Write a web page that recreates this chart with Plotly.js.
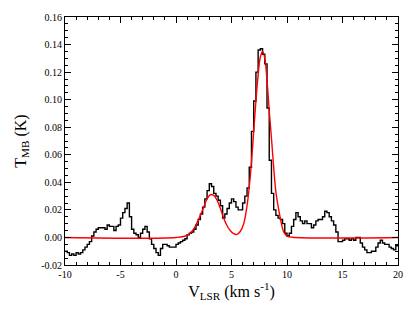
<!DOCTYPE html>
<html>
<head>
<meta charset="utf-8">
<script src="https://cdn.plot.ly/plotly-3.0.1.min.js"></script>
<style>html,body{margin:0;padding:0;background:#fff;}</style>
</head>
<body>
<div id="chart" style="width:415px;height:319px;"></div>
<script>
// Observed spectrum: channel start velocity V0 + i*DV, brightness temperature (K)
const V0 = -10, DV = 0.2;
const tmb = [
  -0.010, -0.011, -0.013, -0.012, -0.013, -0.011, -0.012, -0.011, -0.009, -0.007,   // -10 .. -8.2
  -0.005, -0.003,  0.001,  0.004,  0.006,  0.007,  0.007,  0.007,  0.006,  0.009,   // -8 .. -6.2
   0.008,  0.008,  0.005,  0.008,  0.009,  0.014,  0.018,  0.021,  0.025,  0.015,   // -6 .. -4.2
   0.006,  0.003,  0.002,  0.000,  0.003,  0.006,  0.008,  0.004, -0.001, -0.005,   // -4 .. -2.2
  -0.008, -0.011, -0.013, -0.008, -0.005, -0.005, -0.006, -0.007, -0.007, -0.007,   // -2 .. -0.2
  -0.005, -0.004, -0.003, -0.002, -0.001,  0.002,  0.003,  0.004,  0.006,  0.009,   // 0 .. 1.8
   0.013,  0.017,  0.022,  0.028,  0.034,  0.039,  0.037,  0.032,  0.030,  0.027,   // 2 .. 3.8
   0.023,  0.014,  0.017,  0.021,  0.025,  0.028,  0.026,  0.022,  0.020,  0.020,   // 4 .. 5.8
   0.025,  0.030,  0.036,  0.051,  0.077,  0.099,  0.120,  0.136,  0.137,  0.133,   // 6 .. 7.8
   0.126,  0.094,  0.056,  0.032,  0.020,  0.016,  0.014,  0.013,  0.010,  0.003,   // 8 .. 9.8
   0.001,  0.003,  0.008,  0.013,  0.018,  0.015,  0.012,  0.010,  0.012,  0.010,   // 10 .. 11.8
   0.010,  0.007,  0.009,  0.012,  0.013,  0.013,  0.015,  0.019,  0.018,  0.015,   // 12 .. 13.8
   0.012,  0.009,  0.004, -0.003, -0.003, -0.002, -0.001, -0.001, -0.002, -0.001,   // 14 .. 15.8
  -0.002,  0.000,  0.000, -0.004, -0.007, -0.009, -0.011, -0.011, -0.010, -0.010,   // 16 .. 17.8
  -0.007, -0.004, -0.002, -0.004, -0.005, -0.005, -0.007, -0.008, -0.009, -0.006    // 18 .. 19.8
];

// Gaussian fit curve
const fitV = [-10, 0.0, 1.0, 1.5, 2.0, 2.5, 2.8, 3.1, 3.4, 3.7, 4.0, 4.3, 4.6, 4.9, 5.2, 5.5, 5.8, 6.1, 6.4, 6.7, 7.0, 7.2, 7.4, 7.6, 7.8, 8.0, 8.2, 8.4, 8.6, 8.8, 9.0, 9.3, 9.5, 9.7, 10.0, 10.5, 20];
const fitT = [0, 0.000, 0.0015, 0.005, 0.0125, 0.022, 0.028, 0.031, 0.0305, 0.027, 0.021, 0.014, 0.0085, 0.0048, 0.0027, 0.0022, 0.0045, 0.010, 0.023, 0.045, 0.077, 0.099, 0.118, 0.131, 0.135, 0.130, 0.114, 0.092, 0.072, 0.051, 0.033, 0.018, 0.010, 0.004, 0.001, 0.0001, 0];

const xTickVals = [-10, -5, 0, 5, 10, 15, 20];
const xTickText = ["-10", "-5", "0", "5", "10", "15", "20"];
const yTickVals = [-0.02, 0.00, 0.02, 0.04, 0.06, 0.08, 0.10, 0.12, 0.14, 0.16];
const yTickText = ["-0.02", "0.00", "0.02", "0.04", "0.06", "0.08", "0.10", "0.12", "0.14", "0.16"];

const vel = tmb.map((_, i) => V0 + i * DV);
const stepX = vel.concat([V0 + tmb.length * DV]);
const stepY = tmb.concat([tmb[tmb.length - 1]]);

const font = "Liberation Serif, Times New Roman, serif";

const traces = [
  {x: stepX, y: stepY, type: 'scatter', mode: 'lines',
   line: {shape: 'hv', color: '#000000', width: 1.4}, hoverinfo: 'skip'},
  {x: fitV, y: fitT, type: 'scatter', mode: 'lines',
   line: {shape: 'spline', smoothing: 1.0, color: '#ff0000', width: 1.4}, hoverinfo: 'skip'}
];

const axisCommon = {
  showgrid: false, zeroline: false, showline: true, linecolor: '#000', linewidth: 1,
  mirror: 'allticks', ticks: 'inside', ticklen: 6, tickwidth: 1, tickcolor: '#000',
  tickfont: {family: font, size: 10, color: '#000'}, tickmode: 'array'
};

const layout = {
  width: 415, height: 319,
  margin: {l: 65, r: 17, t: 17, b: 54},
  paper_bgcolor: '#fff', plot_bgcolor: '#fff',
  showlegend: false,
  xaxis: Object.assign({}, axisCommon, {
    range: [-10, 20], tickvals: xTickVals, ticktext: xTickText,
    minor: {dtick: 1, tick0: 0, ticks: 'inside', ticklen: 3, tickcolor: '#000', tickwidth: 1},
    title: {text: 'V<sub>LSR</sub> (km s<sup>-1</sup>)', font: {family: font, size: 16, color: '#000'}, standoff: 6}
  }),
  yaxis: Object.assign({}, axisCommon, {
    range: [-0.02, 0.16], tickvals: yTickVals, ticktext: yTickText,
    minor: {dtick: 0.005, tick0: 0, ticks: 'inside', ticklen: 3, tickcolor: '#000', tickwidth: 1},
    title: {text: 'T<sub>MB</sub> (K)', font: {family: font, size: 16, color: '#000'}, standoff: 10}
  })
};

Plotly.newPlot('chart', traces, layout, {displayModeBar: false, staticPlot: true});
</script>
</body>
</html>
